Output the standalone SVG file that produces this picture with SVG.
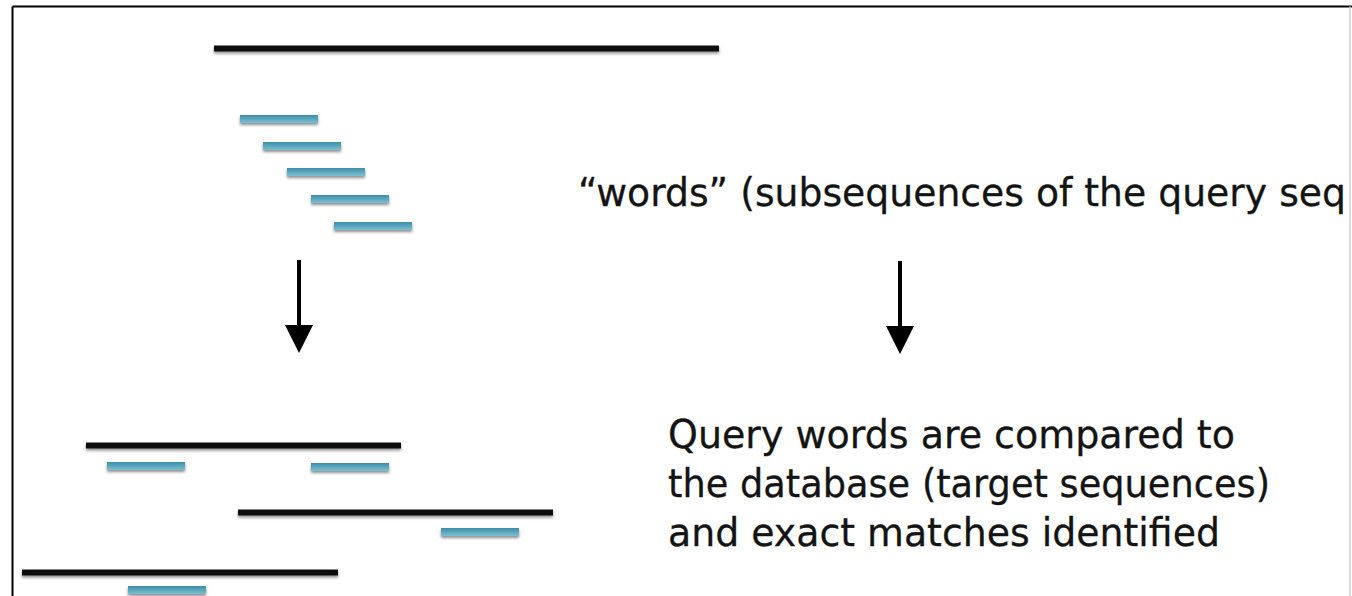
<svg xmlns="http://www.w3.org/2000/svg" width="1352" height="596" viewBox="0 0 1352 596">
  <defs>
    <filter id="shadow" x="-5%" y="-100%" width="110%" height="300%">
      <feDropShadow dx="0" dy="2" stdDeviation="1.6" flood-color="#000" flood-opacity="0.45"/>
    </filter>
    <linearGradient id="wordFill" x1="0" y1="0" x2="0" y2="1">
      <stop offset="0" stop-color="#3f8ca3"/>
      <stop offset="0.5" stop-color="#5ba7bd"/>
      <stop offset="1" stop-color="#7cc0d2"/>
    </linearGradient>
    <!-- arrowhead: base sits on the line end, tip points along the line -->
    <marker id="head" viewBox="0 0 10 10" refX="0" refY="5" markerWidth="7.5" markerHeight="7" orient="auto" markerUnits="strokeWidth">
      <path d="M0,0 L10,5 L0,10 Z" fill="#000"/>
    </marker>
    <style>
      .seq { fill: #111; filter: url(#shadow); }
      .word { fill: url(#wordFill); filter: url(#shadow); }
      .arrow { stroke: #000; stroke-width: 4; fill: none; }
      .label { font-family: "DejaVu Sans", "Liberation Sans", sans-serif; font-size: 39px; fill: #141414; stroke: #141414; stroke-width: 0.3; }
    </style>
  </defs>

  <rect width="1352" height="596" fill="#fff"/>

  <!-- frame: left and top rules, faint right edge -->
  <g id="frame">
    <line x1="12.5" y1="6.5" x2="12.5" y2="596" stroke="#000" stroke-width="2"/>
    <line x1="12.5" y1="6.5" x2="1352" y2="6.5" stroke="#000" stroke-width="2"/>
    <line x1="1350" y1="6.5" x2="1350" y2="596" stroke="#d0d0d0" stroke-width="1.5"/>
  </g>

  <!-- query sequence -->
  <g id="query">
    <rect class="seq" x="214" y="45.5" width="505" height="6"/>
  </g>

  <!-- overlapping query words -->
  <g id="words">
    <rect class="word" x="240" y="115" width="78" height="8"/>
    <rect class="word" x="263" y="142" width="78" height="8"/>
    <rect class="word" x="287" y="168" width="78" height="8"/>
    <rect class="word" x="311" y="195" width="78" height="8"/>
    <rect class="word" x="334" y="222" width="78" height="8"/>
  </g>

  <!-- database sequences with matching words -->
  <g id="matches">
    <rect class="seq" x="86" y="442.5" width="315" height="6"/>
    <rect class="word" x="107" y="462" width="78" height="8"/>
    <rect class="word" x="311" y="463" width="78" height="8"/>
    <rect class="seq" x="238" y="509.5" width="315" height="6"/>
    <rect class="word" x="441" y="528" width="78" height="8"/>
    <rect class="seq" x="22" y="569.5" width="316" height="6"/>
    <rect class="word" x="128" y="586" width="78" height="8"/>
  </g>

  <!-- connectors -->
  <g id="connectors">
    <line class="arrow" x1="299" y1="260" x2="299" y2="325" marker-end="url(#head)"/>
    <line class="arrow" x1="900" y1="261" x2="900" y2="326" marker-end="url(#head)"/>
  </g>

  <g id="label-words">
    <text class="label" x="578" y="206" textLength="768" lengthAdjust="spacingAndGlyphs">“words” (subsequences of the query seq</text>
  </g>

  <g id="label-compare">
    <text class="label" x="668" y="448" textLength="567" lengthAdjust="spacingAndGlyphs">Query words are compared to</text>
    <text class="label" x="668" y="497" textLength="602" lengthAdjust="spacingAndGlyphs">the database (target sequences)</text>
    <text class="label" x="668" y="546" textLength="552" lengthAdjust="spacingAndGlyphs">and exact matches identified</text>
  </g>
</svg>
